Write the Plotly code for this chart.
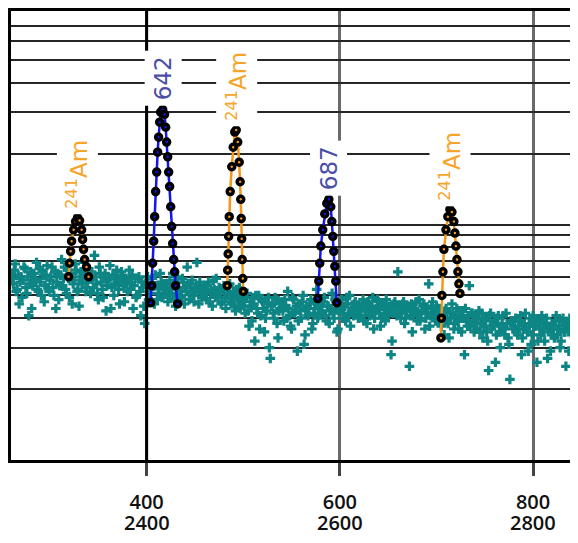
import numpy as np
import plotly.graph_objects as go

# ---------------- background spectrum (teal "+") ----------------
teal_x = [
    260, 262, 264, 266, 268, 270, 272, 274, 276, 278, 280, 282, 284, 286, 288, 290, 292, 294, 296, 298,
    300, 302, 304, 306, 308, 310, 312, 314, 316, 318, 320, 322, 324, 326, 328, 330, 332, 334, 336, 338,
    340, 342, 344, 346, 348, 350, 352, 354, 356, 358, 360, 362, 364, 366, 368, 370, 372, 374, 376, 378,
    380, 382, 384, 386, 388, 390, 392, 394, 396, 398, 400, 402, 404, 406, 408, 410, 412, 414, 416, 418,
    420, 422, 424, 426, 428, 430, 432, 434, 436, 438, 440, 442, 444, 446, 448, 450, 452, 454, 456, 458,
    460, 462, 464, 466, 468, 470, 472, 474, 476, 478, 480, 482, 484, 486, 488, 490, 492, 494, 496, 498,
    500, 502, 504, 506, 508, 510, 512, 514, 516, 518, 520, 522, 524, 526, 528, 530, 532, 534, 536, 538,
    540, 542, 544, 546, 548, 550, 552, 554, 556, 558, 560, 562, 564, 566, 568, 570, 572, 574, 576, 578,
    580, 582, 584, 586, 588, 590, 592, 594, 596, 598, 600, 602, 604, 606, 608, 610, 612, 614, 616, 618,
    620, 622, 624, 626, 628, 630, 632, 634, 636, 638, 640, 642, 644, 646, 648, 650, 652, 654, 656, 658,
    660, 662, 664, 666, 668, 670, 672, 674, 676, 678, 680, 682, 684, 686, 688, 690, 692, 694, 696, 698,
    700, 702, 704, 706, 708, 710, 712, 714, 716, 718, 720, 722, 724, 726, 728, 730, 732, 734, 736, 738,
    740, 742, 744, 746, 748, 750, 752, 754, 756, 758, 760, 762, 764, 766, 768, 770, 772, 774, 776, 778,
    780, 782, 784, 786, 788, 790, 792, 794, 796, 798, 800, 802, 804, 806, 808, 810, 812, 814, 816, 818,
    820, 822, 824, 826, 828, 830, 832, 834, 836, 838, 840, 842, 844, 846,
    261, 263, 265, 267, 269, 271, 273, 275, 277, 279, 281, 283, 285, 287, 289, 291, 293, 295, 297, 299,
    301, 303, 305, 307, 309, 311, 313, 315, 317, 319, 321, 323, 325, 327, 329, 331, 333, 335, 337, 339,
    341, 343, 345, 347, 349, 351, 353, 355, 357, 359, 361, 363, 365, 367, 369, 371, 373, 375, 377, 379,
    381, 383, 385, 387, 389, 391, 393, 395, 397, 399, 401, 403, 405, 407, 409, 411, 413, 415, 417, 419,
    421, 423, 425, 427, 429, 431, 433, 435, 437, 439, 441, 443, 445, 447, 449, 451, 453, 455, 457, 459,
    461, 463, 465, 467, 469, 471, 473, 475, 477, 479, 481, 483, 485, 487, 489, 491, 493, 495, 497, 499,
    501, 503, 505, 507, 509, 511, 513, 515, 517, 519, 521, 523, 525, 527, 529, 531, 533, 535, 537, 539,
    541, 543, 545, 547, 549, 551, 553, 555, 557, 559, 561, 563, 565, 567, 569, 571, 573, 575, 577, 579,
    581, 583, 585, 587, 589, 591, 593, 595, 597, 599, 601, 603, 605, 607, 609, 611, 613, 615, 617, 619,
    621, 623, 625, 627, 629, 631, 633, 635, 637, 639, 641, 643, 645, 647, 649, 651, 653, 655, 657, 659,
    661, 663, 665, 667, 669, 671, 673, 675, 677, 679, 681, 683, 685, 687, 689, 691, 693, 695, 697, 699,
    701, 703, 705, 707, 709, 711, 713, 715, 717, 719, 721, 723, 725, 727, 729, 731, 733, 735, 737, 739,
    741, 743, 745, 747, 749, 751, 753, 755, 757, 759, 761, 763, 765, 767, 769, 771, 773, 775, 777, 779,
    781, 783, 785, 787, 789, 791, 793, 795, 797, 799, 801, 803, 805, 807, 809, 811, 813, 815, 817, 819,
    821, 823, 825, 827, 829, 831, 833, 835, 837, 839, 841, 843, 845,
]
teal_y = [
    6.2, 5.6, 6.8, 5.3, 4.6, 6.0, 5.8, 6.5, 5.1, 4.1, 6.3, 5.5, 5.9, 6.9, 5.2, 5.7, 6.4, 4.7, 6.1, 5.4,
    5.8, 6.6, 5.0, 4.4, 6.2, 5.5, 7.1, 5.9, 5.3, 6.4, 4.9, 6.0, 5.6, 6.8, 5.2, 4.5, 6.3, 5.7, 6.1, 5.4,
    6.5, 5.1, 5.9, 7.4, 5.6, 4.8, 6.2, 5.3, 6.0, 4.3, 5.8, 6.7, 5.4, 5.0, 6.1, 5.7, 4.6, 6.3, 5.5, 5.9,
    5.2, 6.4, 5.6, 4.4, 5.9, 5.0, 6.0, 4.1, 5.4, 3.8, 5.7, 4.8, 5.3, 5.9, 4.6, 5.5, 5.1, 6.2, 4.9, 5.6,
    5.3, 4.7, 5.8, 5.1, 5.5, 4.5, 6.0, 5.2, 4.9, 5.7, 5.4, 6.6, 4.8, 5.6, 5.0, 5.3, 6.9, 4.6, 5.5, 5.1,
    5.4, 4.8, 5.7, 5.1, 4.5, 5.3, 5.9, 4.9, 5.2, 4.7, 5.5, 4.4, 5.0, 5.6, 4.6, 5.2, 4.3, 4.9, 5.4, 4.6,
    4.8, 4.2, 5.1, 3.7, 4.5, 4.9, 3.2, 4.4, 5.0, 4.1, 4.7, 3.5, 4.3, 4.9, 2.7, 4.6, 4.0, 4.8, 3.3, 4.4,
    4.7, 3.9, 4.5, 5.2, 4.1, 3.6, 4.8, 4.3, 2.9, 4.6, 4.0, 5.0, 3.4, 4.5, 4.2, 4.8, 3.8, 4.4, 5.3, 4.1,
    4.6, 4.2, 4.9, 3.9, 4.5, 4.3, 5.1, 4.0, 4.7, 3.6, 4.4, 4.8, 4.2, 3.9, 4.6, 5.0, 4.3, 4.1, 4.7, 4.4,
    4.5, 4.1, 4.8, 4.3, 3.8, 4.6, 4.2, 4.9, 4.0, 4.4, 4.7, 3.7, 4.5, 4.2, 4.8, 4.1, 4.3, 3.2, 4.6, 4.4,
    6.3, 4.5, 4.2, 4.7, 4.0, 4.4, 2.5, 4.6, 4.1, 4.3, 3.9, 4.8, 4.2, 4.5, 3.6, 4.4, 5.6, 4.1, 4.7, 4.3,
    4.5, 3.9, 4.3, 4.0, 3.4, 4.4, 3.8, 4.2, 4.6, 3.6, 4.1, 3.9, 4.3, 3.5, 4.0, 4.4, 3.7, 5.5, 4.2, 3.9,
    4.1, 3.6, 4.3, 3.8, 3.3, 4.0, 3.5, 2.4, 4.2, 3.7, 3.9, 3.4, 4.1, 3.0, 3.8, 3.6, 4.2, 3.3, 2.2, 3.9,
    3.7, 4.0, 3.4, 3.9, 2.8, 3.6, 4.2, 3.5, 3.8, 3.1, 4.1, 3.7, 2.6, 3.9, 3.4, 3.8, 3.2, 4.0, 3.6, 2.9,
    3.8, 3.3, 4.1, 3.6, 3.0, 3.9, 3.5, 2.5, 3.7, 4.0, 3.4, 3.8, 3.2, 3.6,
    5.9, 6.4, 5.2, 6.1, 5.7, 4.9, 6.6, 5.4, 6.0, 5.6, 4.4, 6.2, 5.8, 5.3, 6.5, 5.0, 6.1, 5.5, 6.7, 5.2,
    6.0, 5.4, 6.3, 5.7, 4.8, 6.1, 5.5, 6.6, 5.1, 5.9, 6.2, 4.6, 5.8, 6.4, 5.3, 6.0, 5.6, 6.9, 5.2, 5.7,
    5.9, 6.3, 5.4, 6.0, 5.1, 6.6, 5.7, 4.9, 6.2, 5.5, 5.9, 4.4, 6.1, 5.6, 6.4, 5.3, 5.8, 6.0, 4.7, 5.6,
    5.8, 5.3, 6.1, 5.5, 4.9, 5.9, 5.2, 5.7, 4.5, 5.6, 6.0, 5.1, 4.7, 5.5, 6.1, 4.8, 5.4, 5.7, 5.0, 5.3,
    5.6, 5.0, 5.4, 6.2, 4.8, 5.7, 5.3, 5.0, 5.9, 4.6, 5.2, 5.6, 5.1, 5.8, 4.7, 5.4, 5.2, 5.7, 4.9, 5.3,
    5.1, 5.5, 4.7, 5.2, 5.8, 4.9, 5.0, 5.4, 4.6, 5.3, 4.9, 5.1, 5.5, 4.7, 5.0, 4.5, 5.3, 4.8, 4.4, 5.0,
    4.5, 4.9, 4.3, 4.7, 3.9, 4.6, 5.0, 4.2, 3.6, 4.8, 4.4, 4.0, 4.6, 3.0, 4.5, 4.2, 4.9, 3.8, 4.3, 4.6,
    4.3, 4.8, 4.0, 4.4, 3.7, 4.9, 4.2, 4.5, 3.9, 4.3, 4.7, 3.1, 4.4, 4.1, 4.6, 3.6, 4.2, 4.7, 4.0, 4.5,
    4.3, 4.7, 4.1, 4.5, 3.8, 4.4, 4.2, 4.8, 3.5, 4.3, 4.6, 4.0, 4.5, 4.9, 4.1, 3.7, 4.4, 4.6, 4.2, 4.0,
    4.3, 4.6, 3.9, 4.4, 4.7, 4.1, 4.5, 3.6, 4.3, 4.8, 4.2, 4.0, 4.6, 3.9, 4.4, 4.5, 2.8, 4.2, 4.7, 4.1,
    4.4, 4.0, 4.6, 3.8, 4.3, 4.5, 4.1, 3.5, 4.4, 4.7, 4.2, 3.9, 4.3, 4.6, 4.0, 4.2, 3.7, 4.5, 4.1, 3.9,
    4.2, 4.4, 3.7, 4.1, 4.3, 3.9, 3.3, 4.0, 4.2, 3.8, 4.4, 3.6, 4.0, 4.3, 2.8, 3.9, 4.1, 3.7, 4.2, 3.5,
    3.8, 4.0, 3.5, 4.2, 3.7, 3.9, 3.2, 4.1, 3.6, 3.8, 2.6, 4.0, 3.5, 3.7, 4.1, 3.4, 3.8, 3.1, 3.9, 3.6,
    3.9, 3.5, 3.7, 4.1, 3.3, 3.8, 3.6, 2.9, 4.0, 3.4, 3.7, 3.9, 3.2, 3.6, 4.1, 3.5, 3.8, 2.7, 3.7, 3.4,
    3.6, 3.9, 3.4, 3.7, 3.2, 4.0, 3.5, 3.8, 2.9, 3.6, 3.9, 3.3, 3.7,
]

# ---------------- identified peaks ----------------
am1_x = [319.2, 320.2, 321.3, 322.3, 324.4, 326.4, 328.5, 330.6, 332.7, 333.7, 334.7, 335.8, 337.8, 339.9]
am1_y = [6.0, 6.85, 7.7, 8.5, 9.5, 10.3, 10.7, 10.4, 9.5, 8.65, 7.85, 7.1, 6.6, 6.0]

p642_x = [404.1, 405.2, 406.2, 407.3, 408.3, 409.3, 410.4, 411.4, 412.4, 413.5, 414.5, 416.6, 418.6,
          419.7, 420.7, 421.8, 422.8, 423.8, 424.9, 425.9, 426.9, 428.0, 429.0, 430.0, 432.1]
p642_y = [4.65, 5.5, 6.85, 8.5, 10.8, 13.8, 16.7, 20.3, 23.5, 27.2, 30.0, 30.8, 29.4,
          25.9, 22.4, 19.4, 16.7, 14.5, 11.9, 9.8, 8.3, 7.1, 6.3, 5.5, 4.6]

am2_x = [483.4, 483.9, 484.4, 484.9, 485.5, 486.5, 488.1, 489.6, 491.2, 492.7, 494.3, 495.8, 496.8,
         497.4, 497.9, 498.4, 498.9, 499.5, 500.0]
am2_y = [5.5, 6.4, 7.5, 8.9, 10.8, 13.8, 17.6, 21.3, 24.7, 25.2, 22.4, 18.4, 15.2,
         12.8, 10.6, 8.7, 7.1, 5.9, 5.2]

p687_x = [577.2, 578.2, 579.2, 580.3, 582.3, 584.4, 586.5, 588.6, 590.6, 591.7, 592.7, 593.7, 594.8, 595.8, 596.8]
p687_y = [4.85, 5.75, 6.85, 8.1, 9.5, 11.1, 12.3, 12.8, 11.9, 10.3, 8.9, 7.7, 6.65, 5.75, 4.65]

am3_x = [704.6, 705.1, 705.6, 706.7, 707.7, 709.8, 711.8, 713.9, 716.0, 718.0, 719.1, 720.1, 721.2, 722.2, 723.2, 724.3]
am3_y = [3.3, 4.0, 5.0, 6.3, 7.85, 9.5, 10.8, 11.6, 11.3, 10.3, 9.2, 8.1, 7.1, 6.3, 5.6, 5.1]

peak_labels = ["<sup>241</sup>Am", "642", "<sup>241</sup>Am", "687", "<sup>241</sup>Am"]
peak_kinds = ["am", "line", "am", "line", "am"]

x_tickvals = [400, 600, 800]
x_ticktext = ["400", "600", "800"]
x_energy_text = ["2400", "2600", "2800"]
y_gridvals = [2, 3, 4, 5, 6, 7, 8, 9, 10, 20, 30, 40, 50, 60, 70, 80]

# ---------------- styles ----------------
TEAL = "#0d8585"
LINE_COL = {"am": "#F5961C", "line": "#1414EE"}
LABEL_COL = {"am": "#F7A52A", "line": "#4A4EA6"}

fig = go.Figure()
fig.add_trace(go.Scatter(
    x=teal_x, y=teal_y, mode="markers",
    marker=dict(symbol="cross", size=8, color=TEAL, line=dict(width=0)),
    hoverinfo="skip", showlegend=False,
))

peaks = [(am1_x, am1_y), (p642_x, p642_y), (am2_x, am2_y), (p687_x, p687_y), (am3_x, am3_y)]
for (px, py), kind in zip(peaks, peak_kinds):
    fig.add_trace(go.Scatter(
        x=px, y=py, mode="lines+markers",
        line=dict(color=LINE_COL[kind], width=2.5),
        marker=dict(symbol="circle", size=6, color=LINE_COL[kind], line=dict(color="black", width=3.5)),
        showlegend=False,
    ))

for (px, py), kind, text in zip(peaks, peak_kinds, peak_labels):
    i = int(np.argmax(py))
    fig.add_annotation(
        x=px[i], y=np.log10(py[i]), xref="x", yref="y",
        text=text, textangle=-90, showarrow=False,
        xanchor="center", yanchor="bottom", yshift=3,
        bgcolor="white", borderpad=5,
        font=dict(family="DejaVu Sans", size=23, color=LABEL_COL[kind]),
    )

for xv, et in zip(x_tickvals, x_energy_text):
    fig.add_annotation(
        x=xv, y=-0.139, xref="x", yref="paper", text=et, showarrow=False,
        xanchor="center", yanchor="middle",
        font=dict(family="Open Sans", size=20, color="#111", weight=600),
    )

# dark vertical reference at 400
fig.add_shape(type="line", xref="x", yref="paper", x0=400, x1=400, y0=0, y1=1,
              line=dict(color="black", width=3), layer="above")

fig.update_layout(
    width=570, height=535,
    margin=dict(l=3, r=0, t=0, b=83),
    paper_bgcolor="white", plot_bgcolor="white",
    showlegend=False,
)
fig.update_xaxes(
    range=[259.6, 846.5], tickvals=x_tickvals, ticktext=x_ticktext,
    showgrid=True, gridcolor="#6a6a6a", gridwidth=3,
    ticks="outside", ticklen=13, tickwidth=2.5, tickcolor="#444",
    showline=True, linecolor="black", linewidth=3, mirror=True,
    ticklabelstandoff=9,
    tickfont=dict(family="Open Sans", size=20, color="#111", weight=600),
    zeroline=False,
)
fig.update_yaxes(
    type="log", range=[0, 1.907], tickvals=y_gridvals, showticklabels=False,
    showgrid=True, gridcolor="#262626", gridwidth=2,
    ticks="", showline=True, linecolor="black", linewidth=2.5, mirror=False,
    zeroline=False,
)

fig.write_html("out.html")
